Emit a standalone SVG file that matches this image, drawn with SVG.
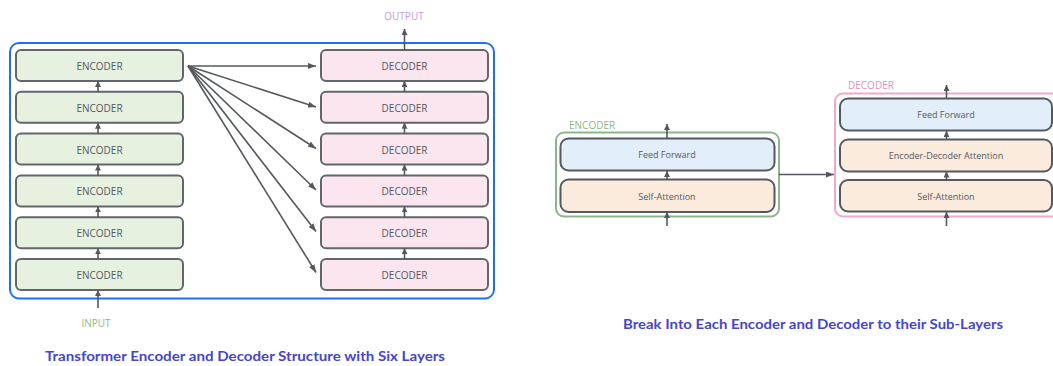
<svg xmlns="http://www.w3.org/2000/svg" width="1053" height="366" viewBox="0 0 1053 366">
  <defs>
    <marker id="arr" viewBox="0 0 8 6" refX="8" refY="3" markerWidth="8" markerHeight="6" markerUnits="userSpaceOnUse" orient="auto">
      <path d="M0,0 L8,3 L0,6 z" fill="#54585e"/>
    </marker>
    <marker id="arrs" viewBox="0 0 6 6" refX="6" refY="3" markerWidth="6" markerHeight="6" markerUnits="userSpaceOnUse" orient="auto">
      <path d="M0,0 L6,3 L0,6 z" fill="#54585e"/>
    </marker>
  </defs>
  <style>
    .enc { fill: #e6f2df; stroke: #62666b; stroke-width: 2; }
    .dec { fill: #fbe6ef; stroke: #62666b; stroke-width: 2; }
    .ff { fill: #e3eefb; stroke: #55595f; stroke-width: 2; }
    .att { fill: #fbebdc; stroke: #55595f; stroke-width: 2; }
    .lbl { font-family: "Open Sans", "Liberation Sans", sans-serif; font-size: 10px; fill: #54585e; text-anchor: middle; dominant-baseline: central; }
    .sub { font-family: "Open Sans", "Liberation Sans", sans-serif; font-size: 9px; fill: #54585e; text-anchor: middle; dominant-baseline: central; }
    .link { stroke: #54585e; stroke-width: 1.6; fill: none; marker-end: url(#arr); }
    .step { stroke: #54585e; stroke-width: 1.6; fill: none; marker-end: url(#arrs); }
    .cap { font-family: Lato, "Open Sans", sans-serif; font-weight: bold; font-size: 14px; fill: #4446cf; }
    .io { font-family: "Open Sans", "Liberation Sans", sans-serif; font-size: 10px; text-anchor: middle; dominant-baseline: central; }
  </style>

  <!-- stack container -->
  <rect x="10" y="43" width="484" height="255.5" rx="9" fill="none" stroke="#1f6ff2" stroke-width="2"/>

  <!-- encoder stack -->
  <g id="encoder-1"><rect class="enc" x="16" y="50" width="167" height="31" rx="5"/><text class="lbl" x="99.5" y="66">ENCODER</text></g>
  <g id="encoder-2"><rect class="enc" x="16" y="91.8" width="167" height="31" rx="5"/><text class="lbl" x="99.5" y="107.8">ENCODER</text></g>
  <g id="encoder-3"><rect class="enc" x="16" y="133.6" width="167" height="31" rx="5"/><text class="lbl" x="99.5" y="149.6">ENCODER</text></g>
  <g id="encoder-4"><rect class="enc" x="16" y="175.4" width="167" height="31" rx="5"/><text class="lbl" x="99.5" y="191.4">ENCODER</text></g>
  <g id="encoder-5"><rect class="enc" x="16" y="217.2" width="167" height="31" rx="5"/><text class="lbl" x="99.5" y="233.2">ENCODER</text></g>
  <g id="encoder-6"><rect class="enc" x="16" y="259" width="167" height="31" rx="5"/><text class="lbl" x="99.5" y="275">ENCODER</text></g>

  <!-- decoder stack -->
  <g id="decoder-1"><rect class="dec" x="321" y="50" width="167" height="31" rx="5"/><text class="lbl" x="404.5" y="66">DECODER</text></g>
  <g id="decoder-2"><rect class="dec" x="321" y="91.8" width="167" height="31" rx="5"/><text class="lbl" x="404.5" y="107.8">DECODER</text></g>
  <g id="decoder-3"><rect class="dec" x="321" y="133.6" width="167" height="31" rx="5"/><text class="lbl" x="404.5" y="149.6">DECODER</text></g>
  <g id="decoder-4"><rect class="dec" x="321" y="175.4" width="167" height="31" rx="5"/><text class="lbl" x="404.5" y="191.4">DECODER</text></g>
  <g id="decoder-5"><rect class="dec" x="321" y="217.2" width="167" height="31" rx="5"/><text class="lbl" x="404.5" y="233.2">DECODER</text></g>
  <g id="decoder-6"><rect class="dec" x="321" y="259" width="167" height="31" rx="5"/><text class="lbl" x="404.5" y="275">DECODER</text></g>

  <g id="io-labels">
    <text class="io" x="96" y="323" fill="#8fb88a">INPUT</text>
    <text class="io" x="404" y="16" fill="#c39ad8">OUTPUT</text>
  </g>

  <!-- detailed encoder -->
  <g id="encoder-detail">
    <rect x="556" y="132.5" width="223" height="84" rx="8" fill="none" stroke="#8db58a" stroke-width="2"/>
    <text class="io" x="569" y="125" fill="#8db58a" text-anchor="start" style="text-anchor:start">ENCODER</text>
  </g>
  <g id="enc-feed-forward"><rect class="ff" x="560.5" y="138.5" width="214" height="32" rx="8"/><text class="sub" x="667" y="154.5">Feed Forward</text></g>
  <g id="enc-self-attention"><rect class="att" x="560.5" y="179.5" width="214" height="32.5" rx="8"/><text class="sub" x="667" y="196">Self-Attention</text></g>

  <!-- detailed decoder -->
  <g id="decoder-detail">
    <rect x="835" y="93.5" width="230" height="123" rx="8" fill="none" stroke="#f0a9c9" stroke-width="2"/>
    <text class="io" x="848" y="85" fill="#e390b8" style="text-anchor:start">DECODER</text>
  </g>
  <g id="dec-feed-forward"><rect class="ff" x="840" y="98.5" width="212" height="32" rx="8"/><text class="sub" x="946" y="114.5">Feed Forward</text></g>
  <g id="dec-enc-dec-attention"><rect class="att" x="840" y="139.5" width="212" height="32" rx="8"/><text class="sub" x="946" y="155.5">Encoder-Decoder Attention</text></g>
  <g id="dec-self-attention"><rect class="att" x="840" y="180" width="212" height="31.5" rx="8"/><text class="sub" x="946" y="196">Self-Attention</text></g>

  <!-- connectors -->
  <g id="connectors">
    <!-- encoder stack flow -->
    <line class="step" x1="98" y1="308" x2="98" y2="290"/>
    <line class="step" x1="98" y1="259" x2="98" y2="248.2"/>
    <line class="step" x1="98" y1="217.2" x2="98" y2="206.4"/>
    <line class="step" x1="98" y1="175.4" x2="98" y2="164.6"/>
    <line class="step" x1="98" y1="133.6" x2="98" y2="122.8"/>
    <line class="step" x1="98" y1="91.8" x2="98" y2="81"/>
    <!-- decoder stack flow -->
    <line class="step" x1="404.5" y1="259" x2="404.5" y2="248.2"/>
    <line class="step" x1="404.5" y1="217.2" x2="404.5" y2="206.4"/>
    <line class="step" x1="404.5" y1="175.4" x2="404.5" y2="164.6"/>
    <line class="step" x1="404.5" y1="133.6" x2="404.5" y2="122.8"/>
    <line class="step" x1="404.5" y1="91.8" x2="404.5" y2="81"/>
    <line class="step" x1="404.5" y1="50" x2="404.5" y2="29"/>
    <!-- top encoder output fans out to every decoder -->
    <line class="link" x1="188" y1="66" x2="316" y2="66"/>
    <line class="link" x1="188" y1="66" x2="316" y2="107"/>
    <line class="link" x1="188" y1="66" x2="316" y2="148.5"/>
    <line class="link" x1="188" y1="66" x2="316" y2="190"/>
    <line class="link" x1="188" y1="66" x2="316" y2="231.5"/>
    <line class="link" x1="188" y1="66" x2="316" y2="272.5"/>
    <!-- sub-layer flow, encoder -->
    <line class="step" x1="667" y1="226" x2="667" y2="212"/>
    <line class="step" x1="667" y1="179.5" x2="667" y2="171"/>
    <line class="step" x1="667" y1="138.5" x2="667" y2="124"/>
    <!-- sub-layer flow, decoder -->
    <line class="step" x1="946.5" y1="226" x2="946.5" y2="212"/>
    <line class="step" x1="946.5" y1="180" x2="946.5" y2="171.5"/>
    <line class="step" x1="946.5" y1="139.5" x2="946.5" y2="131"/>
    <line class="step" x1="946.5" y1="98.5" x2="946.5" y2="85"/>
    <!-- encoder to decoder -->
    <line class="link" x1="779" y1="174.5" x2="834" y2="174.5"/>
  </g>

  <!-- captions -->
  <text class="cap" x="45" y="361" textLength="400" lengthAdjust="spacingAndGlyphs">Transformer Encoder and Decoder Structure with Six Layers</text>
  <text class="cap" x="623" y="329" textLength="380" lengthAdjust="spacingAndGlyphs">Break Into Each Encoder and Decoder to their Sub-Layers</text>
</svg>
